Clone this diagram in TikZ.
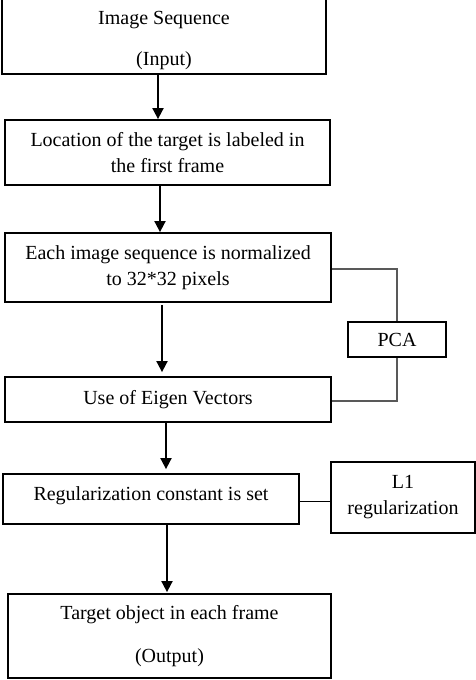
\documentclass[tikz,border=0pt]{standalone}
\usepackage{fontspec}
\setmainfont{Liberation Serif}
\usetikzlibrary{arrows.meta}
\begin{document}
\begin{tikzpicture}[x=1pt,y=-1pt,
  txt/.style={inner sep=0pt,align=center,font=\fontsize{20}{26}\selectfont},
  box/.style={draw=black,line width=1.8pt,rectangle,txt},
  arr/.style={draw=black,line width=1.8pt,-{Triangle[length=11pt,width=11pt]}},
  conn/.style={draw=black!65,line width=1.2pt},
  conn2/.style={draw=black,line width=1pt}]
\useasboundingbox (0,0) rectangle (476,680);
\node[box,minimum width=324pt,minimum height=78pt,
  label={[txt,yshift=-6pt]center:{Image Sequence\\[15pt](Input)}}] (b1) at (164,35) {};
\node[box,minimum width=325pt,minimum height=65pt] (b2) at (167.5,152.5)
  {Location of the target is labeled in\\the first frame};
\node[box,minimum width=326pt,minimum height=69pt] (b3) at (168,267.5)
  {Each image sequence is normalized\\to 32*32 pixels};
\node[box,minimum width=326pt,minimum height=45pt] (b4) at (168,399.5)
  {Use of Eigen Vectors};
\node[box,minimum width=296pt,minimum height=50pt,
  label={[txt,yshift=3pt]center:{Regularization constant is set}}] (b5) at (151,499) {};
\node[box,minimum width=323pt,minimum height=84pt] (b6) at (169.5,636)
  {Target object in each frame\\[17pt](Output)};
\node[box,minimum width=98pt,minimum height=35pt] (pca) at (397,339.5) {PCA};
\node[box,minimum width=144pt,minimum height=71pt] (l1) at (403,497.5)
  {L1\\regularization};
\draw[arr] (b1.south -| 158,0) -- (b2.north -| 158,0);
\draw[arr] (b2.south -| 160,0) -- (b3.north -| 160,0);
\draw[arr,shorten <=2pt,shorten >=4pt] (b3.south -| 162,0) -- (b4.north -| 162,0);
\draw[arr,shorten >=4pt] (b4.south -| 166,0) -- (b5.north -| 166,0);
\draw[arr,shorten >=1pt] (b5.south -| 167,0) -- (b6.north -| 167,0);
\draw[conn] (b3.east |- 0,269) -| (pca.north);
\draw[conn] (pca.south) |- (b4.east |- 0,401);
\draw[conn2] (b5.east |- 0,501) -- (l1.west |- 0,501);
\end{tikzpicture}
\end{document}
